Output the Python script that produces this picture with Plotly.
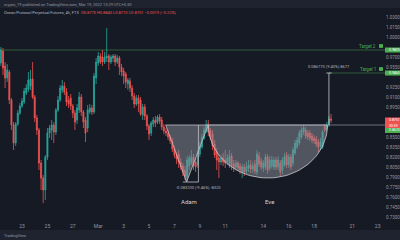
import numpy as np
import pandas as pd
import plotly.graph_objects as go

# ---------------- data (4h candles) ----------------
START = "2022-02-21 08:00"
opens = [
 .9610,.9790,.9565,.9385,.9475,.9055,.8680,.8410,.8695,.8860,
 .8965,.9025,.9160,.9220,.9265,.9370,.9100,.8785,.8605,.8110,
 .7885,.7705,.8200,.8560,.8605,.8680,.8575,.8905,.9055,.9205,
 .9265,.9175,.9055,.9085,.8965,.8860,.8755,.8905,.9100,.8875,
 .8755,.8635,.8875,.8935,.8875,.9385,.9610,.9715,.9700,.9625,
 .9685,.9715,.9625,.9685,.9715,.9625,.9685,.9550,.9490,.9445,
 .9295,.9340,.9235,.9115,.8995,.9085,.9055,.8830,.8950,.8815,
 .8665,.8560,.8695,.8755,.8725,.8800,.8755,.8650,.8590,.8560,
 .8500,.8440,.8320,.8230,.8245,.8125,.8065,.8005,.7900,.8065,
 .8110,.8200,.8125,.8080,.8245,.8350,.8485,.8590,.8695,.8590,
 .8545,.8395,.8275,.8185,.8125,.8185,.8155,.8125,.8080,.8215,
 .8095,.8050,.8110,.8065,.7975,.8050,.7990,.8035,.8080,.8020,
 .8095,.7975,.8215,.8140,.8035,.8050,.8200,.8035,.8065,.8050,
 .8155,.8050,.8110,.8005,.8080,.8230,.8080,.8200,.8110,.8260,
 .8350,.8410,.8500,.8575,.8605,.8560,.8560,.8515,.8485,.8470,
 .8425,.8365,.8350,.8665,.8620,.8680,.8770]
highs = [
 .9850,.9835,.9625,.9595,.9505,.9085,.8725,.8725,.8905,.9010,
 .9085,.9235,.9295,.9475,.9505,.9625,.9130,.8830,.8635,.8155,
 .7930,.8230,.8635,.8680,.8755,.8725,.8935,.9115,.9280,.9355,
 .9325,.9235,.9115,.9145,.8995,.8905,.8995,.9175,.9145,.8905,
 .8800,.8980,.8995,.8980,.9460,.9685,.9775,.9760,.9805,.9775,
 1.0135,.9745,.9730,.9745,.9745,.9730,.9715,.9595,.9535,.9475,
 .9385,.9385,.9280,.9160,.9130,.9130,.9100,.8995,.8995,.8845,
 .8695,.8740,.8800,.8815,.8830,.8845,.8800,.8695,.8635,.8605,
 .8530,.8485,.8365,.8275,.8305,.8185,.8110,.8065,.8215,.8230,
 .8305,.8245,.8185,.8305,.8425,.8545,.8650,.8755,.8755,.8635,
 .8605,.8455,.8335,.8245,.8230,.8260,.8305,.8245,.8305,.8260,
 .8155,.8155,.8140,.8110,.8095,.8095,.8125,.8155,.8155,.8125,
 .8155,.8305,.8275,.8185,.8155,.8245,.8245,.8215,.8215,.8200,
 .8200,.8215,.8155,.8200,.8260,.8275,.8245,.8245,.8350,.8455,
 .8500,.8605,.8650,.8680,.8650,.8605,.8605,.8560,.8530,.8515,
 .8470,.8485,.8605,.8695,.8725,.8815,.8845]
lows = [
 .9565,.9430,.9235,.9325,.8995,.8605,.8305,.8365,.8665,.8830,
 .8935,.8995,.9130,.9175,.9205,.9070,.8725,.8530,.8005,.7705,
 .7510,.7555,.8155,.8485,.8455,.8410,.8530,.8875,.9025,.9160,
 .9130,.8965,.8935,.8905,.8785,.8605,.8695,.8860,.8815,.8635,
 .8425,.8575,.8845,.8830,.8845,.9295,.9565,.9595,.9565,.9595,
 .9625,.9505,.9595,.9625,.9565,.9595,.9430,.9415,.9295,.9235,
 .9205,.9175,.9055,.8935,.8965,.8875,.8815,.8755,.8755,.8605,
 .8455,.8515,.8650,.8650,.8695,.8695,.8605,.8545,.8515,.8455,
 .8395,.8275,.8185,.8095,.8035,.8005,.7915,.7855,.7840,.8005,
 .8080,.8005,.7975,.8035,.8200,.8320,.8455,.8560,.8515,.8455,
 .8305,.8185,.8005,.7885,.8080,.8065,.8035,.8080,.8035,.8005,
 .7975,.8005,.7990,.7945,.7885,.7915,.7945,.7975,.7960,.7960,
 .7945,.7930,.8050,.8005,.7975,.8005,.7945,.7990,.8020,.8005,
 .8005,.8005,.7915,.7945,.8050,.8035,.8035,.8005,.8065,.8230,
 .8320,.8380,.8470,.8530,.8470,.8455,.8440,.8410,.8395,.8350,
 .8275,.8305,.8320,.8575,.8590,.8650,.8710]
closes = [
 .9805,.9535,.9385,.9505,.9055,.8680,.8410,.8695,.8860,.8965,
 .9040,.9190,.9235,.9355,.9370,.9100,.8785,.8605,.8110,.7885,
 .7705,.8200,.8560,.8635,.8680,.8575,.8905,.9055,.9235,.9265,
 .9175,.9025,.8995,.8965,.8860,.8725,.8935,.9100,.8875,.8725,
 .8560,.8905,.8935,.8875,.9415,.9625,.9715,.9625,.9625,.9700,
 .9715,.9625,.9700,.9715,.9625,.9685,.9550,.9475,.9415,.9325,
 .9355,.9235,.9115,.8995,.9085,.8995,.8845,.8950,.8815,.8665,
 .8545,.8710,.8755,.8710,.8800,.8740,.8650,.8590,.8560,.8500,
 .8440,.8320,.8230,.8170,.8125,.8050,.7975,.7915,.8155,.8185,
 .8200,.8065,.8050,.8260,.8365,.8500,.8605,.8680,.8575,.8500,
 .8365,.8230,.8155,.8125,.8185,.8125,.8110,.8185,.8215,.8065,
 .8035,.8110,.8035,.8005,.8050,.7975,.8050,.8080,.8020,.8065,
 .7990,.8245,.8095,.8050,.8110,.8200,.8005,.8155,.8155,.8155,
 .8050,.8155,.7975,.8155,.8200,.8080,.8200,.8050,.8305,.8410,
 .8455,.8560,.8605,.8635,.8515,.8500,.8485,.8455,.8440,.8395,
 .8350,.8425,.8575,.8605,.8680,.8770,.8751]

tick_dates = ["2022-02-23", "2022-02-25", "2022-02-27", "2022-03-01", "2022-03-03",
              "2022-03-05", "2022-03-07", "2022-03-09", "2022-03-11", "2022-03-14",
              "2022-03-16", "2022-03-18", "2022-03-21", "2022-03-23"]
tick_labels = ["23", "25", "27", "Mar", "3", "5", "7", "9", "11", "14", "16", "18", "21", "23"]
price_ticks = [1.0300, 1.0150, 1.0000, 0.9700, 0.9550, 0.9250, 0.9100, 0.8950,
               0.8500, 0.8350, 0.8200, 0.8050, 0.7900, 0.7750, 0.7600, 0.7450, 0.7300]

# pattern drawing anchors
NECK = 0.8680
TARGET1 = 0.9460
TARGET2 = 0.9805
ADAM_LEFT = "2022-03-06 07:30"
ADAM_BOTTOM_X = "2022-03-07 22:50"
ADAM_LOW = 0.7825
ADAM_RIGHT = "2022-03-09 16:00"
ADAM_MEASURE_X = "2022-03-08 21:20"
ADAM_MEASURE_X0 = "2022-03-07 16:00"
EVE_CENTER = "2022-03-14 08:40"
EVE_HALF_DAYS = 4.69
EVE_LOW = 0.7885
MEASURE_X = "2022-03-19 04:00"
X_RANGE = ["2022-02-21 06:22", "2022-03-23 13:55"]
Y_RANGE = [0.7225, 1.0435]

dates = pd.date_range(START, periods=len(closes), freq="4h")

BG = "#161a25"
BAR = "#1f2330"
UP = "#26a69a"
DN = "#ef5350"
FONT = "Roboto"

fig = go.Figure()
fig.add_trace(go.Candlestick(
    x=dates, open=opens, high=highs, low=lows, close=closes,
    increasing=dict(line=dict(color=UP, width=0.8), fillcolor=UP),
    decreasing=dict(line=dict(color=DN, width=0.8), fillcolor=DN),
    whiskerwidth=0, showlegend=False, hoverinfo="skip"))

# Adam (triangle)
fig.add_trace(go.Scatter(
    x=[ADAM_LEFT, ADAM_BOTTOM_X, ADAM_RIGHT, ADAM_LEFT],
    y=[NECK, ADAM_LOW, NECK, NECK], mode="lines", fill="toself",
    fillcolor="rgba(140,143,153,0.5)", line=dict(color="rgba(200,200,206,0.75)", width=1),
    showlegend=False, hoverinfo="skip"))

# Eve (half ellipse)
c = pd.Timestamp(EVE_CENTER)
th = np.linspace(np.pi, 2 * np.pi, 60)
ex = [c + pd.Timedelta(days=EVE_HALF_DAYS * np.cos(t)) for t in th]
ey = [NECK + (NECK - EVE_LOW) * np.sin(t) for t in th]
ex.append(ex[0]); ey.append(ey[0])
fig.add_trace(go.Scatter(
    x=ex, y=ey, mode="lines", fill="toself",
    fillcolor="rgba(140,143,153,0.5)", line=dict(color="rgba(205,205,210,0.8)", width=1),
    showlegend=False, hoverinfo="skip"))

shapes = []
shapes.append(dict(type="rect", xref="paper", yref="paper", x0=-0.01, x1=1.05,
                   y0=1.0, y1=1.06, fillcolor=BAR, line_width=0, layer="below"))
shapes.append(dict(type="rect", xref="paper", yref="paper", x0=-0.01, x1=1.05,
                   y0=-0.10, y1=-0.0374, fillcolor=BAR, line_width=0, layer="below"))
shapes.append(dict(type="line", xref="paper", yref="y", x0=0, x1=1, y0=TARGET2, y1=TARGET2,
                   line=dict(color="rgba(76,175,80,0.45)", width=1)))
shapes.append(dict(type="line", xref="x", yref="y", x0=MEASURE_X, x1=X_RANGE[1], y0=TARGET1, y1=TARGET1,
                   line=dict(color="rgba(76,175,80,0.45)", width=1)))
shapes.append(dict(type="line", xref="x", yref="y", x0=ADAM_RIGHT, x1=X_RANGE[1], y0=NECK, y1=NECK,
                   line=dict(color="rgba(150,152,160,0.7)", width=1)))
shapes.append(dict(type="line", xref="x", yref="y", x0=MEASURE_X, x1=MEASURE_X, y0=NECK, y1=TARGET1,
                   line=dict(color="rgba(190,192,198,0.85)", width=1)))
mx = pd.Timestamp(MEASURE_X)
shapes.append(dict(type="line", xref="x", yref="y", x0=mx - pd.Timedelta(hours=5), x1=mx + pd.Timedelta(hours=5),
                   y0=TARGET1, y1=TARGET1, line=dict(color="rgba(190,192,198,0.85)", width=1)))
shapes.append(dict(type="line", xref="x", yref="y", x0=ADAM_MEASURE_X, x1=ADAM_MEASURE_X, y0=NECK, y1=ADAM_LOW,
                   line=dict(color="rgba(190,192,198,0.8)", width=1)))
shapes.append(dict(type="line", xref="x", yref="y", x0=ADAM_MEASURE_X0, x1=ADAM_MEASURE_X, y0=ADAM_LOW, y1=ADAM_LOW,
                   line=dict(color="rgba(190,192,198,0.8)", width=1)))
for ty in (TARGET2 + 0.0060, TARGET1 + 0.0060):
    shapes.append(dict(type="rect", xref="paper", yref="y", x0=0.9845, x1=0.9948,
                       y0=ty - 0.0028, y1=ty + 0.0028, fillcolor="#4caf50", line_width=0))
H = 0.0038
shapes.append(dict(type="rect", xref="paper", yref="y", x0=1.0, x1=1.04, y0=TARGET2 - H, y1=TARGET2 + H,
                   fillcolor="#4caf50", line_width=0))
shapes.append(dict(type="rect", xref="paper", yref="y", x0=1.0, x1=1.04, y0=TARGET1 - H, y1=TARGET1 + H,
                   fillcolor="#4caf50", line_width=0))
shapes.append(dict(type="rect", xref="paper", yref="y", x0=1.0, x1=1.04, y0=0.8635, y1=0.8793,
                   fillcolor=DN, line_width=0))
shapes.append(dict(type="rect", xref="paper", yref="y", x0=1.0, x1=1.04, y0=0.8560, y1=0.8635,
                   fillcolor="#4caf50", line_width=0))

ann = []
def txt(x, y, s, size=4, color="#b2b5be", xref="x", yref="y", xanchor="center", yanchor="middle"):
    ann.append(dict(x=x, y=y, text=s, xref=xref, yref=yref, showarrow=False, xanchor=xanchor,
                    yanchor=yanchor, font=dict(family=FONT, size=size, color=color)))

def py(p):
    return (222 - p) / 214.0

txt(0.005, py(4), "crypto_19 published on TradingView.com, Mar 19, 2022 13:29 UTC+5:30",
    size=4, color="#9598a1", xref="paper", yref="paper", xanchor="left")
txt(0.005, py(12), "Ocean Protocol Perpetual Futures, 4h, FTX  "
    "<span style='color:#ef5350'>O0.8770 H0.8845 L0.8710 C0.8751 −0.0019 (−0.22%)</span>",
    size=4, color="#b2b5be", xref="paper", yref="paper", xanchor="left")
txt(0.005, py(235.5), "TradingView", size=4, color="#9598a1", xref="paper", yref="paper", xanchor="left")

txt(ADAM_MEASURE_X, 0.7738, "-0.083200 (-9.46%) -8320", size=4, color="#b2b5be")
txt(MEASURE_X, 0.9555, "0.086770 (9.40%) 8677", size=4, color="#b2b5be")
txt("2022-03-08 02:40", 0.7540, "Adam", size=6, color="#d1d4dc")
txt("2022-03-14 12:30", 0.7540, "Eve", size=6, color="#d1d4dc")
txt(0.982, TARGET2 + 0.0060, "Target 2", size=4.5, color="#4caf50", xref="paper", xanchor="right")
txt(0.982, TARGET1 + 0.0060, "Target 1", size=4.5, color="#4caf50", xref="paper", xanchor="right")
txt(1.004, TARGET2, "0.9805", size=3.5, color="#ffffff", xref="paper", xanchor="left")
txt(1.004, TARGET1, "0.9460", size=3.5, color="#ffffff", xref="paper", xanchor="left")
txt(1.004, 0.8751, "0.8751", size=3.5, color="#ffffff", xref="paper", xanchor="left")
txt(1.004, 0.8672, "30:59", size=3.5, color="#ffffff", xref="paper", xanchor="left")
txt(1.004, 0.8598, "0.8620", size=3.5, color="#ffffff", xref="paper", xanchor="left")

fig.update_layout(
    width=400, height=240, margin=dict(l=0, r=12, t=8, b=18),
    paper_bgcolor=BG, plot_bgcolor=BG, showlegend=False,
    shapes=shapes, annotations=ann, hovermode=False,
    xaxis=dict(type="date", range=X_RANGE, rangeslider=dict(visible=False),
               showgrid=False, zeroline=False, showline=False, ticks="",
               tickvals=tick_dates, ticktext=tick_labels,
               tickfont=dict(family=FONT, size=5, color="#9598a1")),
    yaxis=dict(side="right", range=Y_RANGE, showgrid=False, zeroline=False, showline=False,
               tickvals=price_ticks, tickformat=".4f", ticks="",
               tickfont=dict(family=FONT, size=4.5, color="#9598a1")),
)

fig.write_html("out.html")
